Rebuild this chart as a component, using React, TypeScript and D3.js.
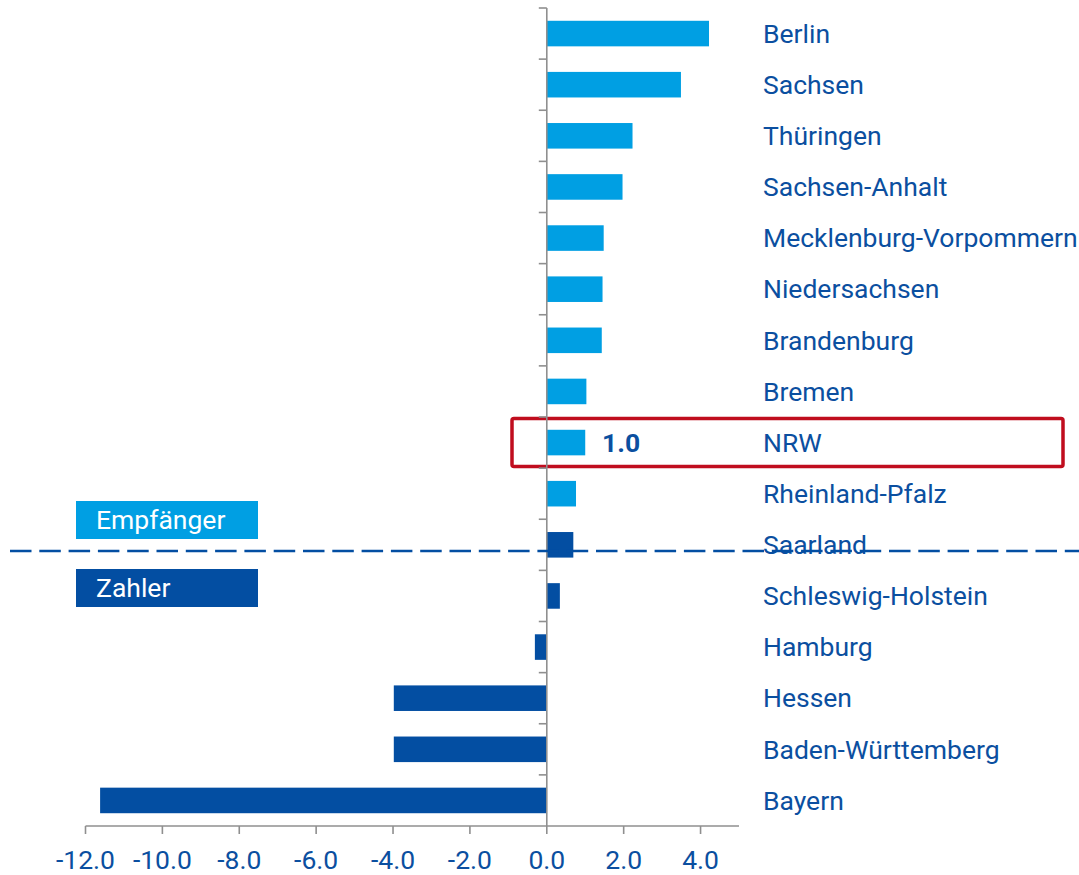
import { useEffect, useRef } from "react";
import * as d3 from "d3";

const LAENDER = [
  "Berlin", "Sachsen", "Thüringen", "Sachsen-Anhalt", "Mecklenburg-Vorpommern",
  "Niedersachsen", "Brandenburg", "Bremen", "NRW", "Rheinland-Pfalz", "Saarland",
  "Schleswig-Holstein", "Hamburg", "Hessen", "Baden-Württemberg", "Bayern",
];
const WERTE = [4.22, 3.49, 2.23, 1.97, 1.48, 1.45, 1.43, 1.03, 1.0, 0.76, 0.69, 0.34, -0.31, -3.98, -3.98, -11.62];
// first 10 rows are Empfänger, rest Zahler (Saarland drawn dark in the source)
const GRUPPE = ["E","E","E","E","E","E","E","E","E","E","Z","Z","Z","Z","Z","Z"];
const X_TICKS = [-12, -10, -8, -6, -4, -2, 0, 2, 4];
const HIGHLIGHT = "NRW";
const HIGHLIGHT_LABEL = "1.0";

const HELL = "#009fe3";
const DUNKEL = "#034ea2";
const TEXT = "#0b4fa0";
const GRAU = "#8f8f8f";

export default function App() {
  const ref = useRef<SVGSVGElement>(null);

  useEffect(() => {
    if (!ref.current) return;
    const W = 1079, H = 875;
    const svg = d3.select(ref.current);
    svg.selectAll("*").remove();
    svg.attr("viewBox", `0 0 ${W} ${H}`);

    const font = "Roboto, 'Open Sans', sans-serif";
    const fs = 26.5;
    const x = d3.scaleLinear().domain([-12, 5]).range([85.5, 739]);
    const y = d3.scaleBand<string>().domain(LAENDER).range([8, 826]).paddingInner(0.5).paddingOuter(0.25);
    const x0 = x(0);
    const yAxis = 826;

    // highlight frame
    const hy = y(HIGHLIGHT)! + y.bandwidth() / 2;
    svg.append("rect")
      .attr("x", 512).attr("y", hy - 24).attr("width", 551).attr("height", 48)
      .attr("rx", 2)
      .attr("fill", "none").attr("stroke", "#c00d1e").attr("stroke-width", 3.5);

    // bars
    svg.append("g").selectAll("rect")
      .data(LAENDER)
      .join("rect")
      .attr("x", (d, i) => Math.min(x(WERTE[i]), x0))
      .attr("y", (d) => y(d)!)
      .attr("width", (d, i) => Math.abs(x(WERTE[i]) - x0))
      .attr("height", y.bandwidth())
      .attr("fill", (d, i) => (GRUPPE[i] === "E" ? HELL : DUNKEL));

    // vertical axis
    const step = y.step();
    const g = svg.append("g").attr("stroke", GRAU).attr("stroke-width", 1.6);
    g.append("line").attr("x1", x0).attr("x2", x0).attr("y1", 8).attr("y2", yAxis);
    d3.range(LAENDER.length).forEach((i) => {
      const yy = 8 + i * step;
      g.append("line").attr("x1", x0 - 8).attr("x2", x0).attr("y1", yy).attr("y2", yy);
    });

    // horizontal axis
    g.append("line").attr("x1", x(-12)).attr("x2", x(5)).attr("y1", yAxis).attr("y2", yAxis);
    X_TICKS.forEach((t) => {
      g.append("line").attr("x1", x(t)).attr("x2", x(t)).attr("y1", yAxis).attr("y2", yAxis + 8);
    });
    svg.append("g").selectAll("text")
      .data(X_TICKS)
      .join("text")
      .attr("x", (d) => x(d))
      .attr("y", 869)
      .attr("text-anchor", "middle")
      .attr("font-family", font)
      .attr("font-size", fs)
      .attr("fill", TEXT)
      .text((d) => d.toFixed(1));

    // category labels
    svg.append("g").selectAll("text")
      .data(LAENDER)
      .join("text")
      .attr("x", 763)
      .attr("y", (d) => y(d)! + y.bandwidth() / 2)
      .attr("dy", "0.35em")
      .attr("font-family", font)
      .attr("font-size", fs)
      .attr("fill", TEXT)
      .text((d) => d);

    // value label NRW
    svg.append("text")
      .attr("x", 602).attr("y", hy).attr("dy", "0.35em")
      .attr("font-family", font).attr("font-size", fs).attr("font-weight", "bold")
      .attr("fill", TEXT)
      .text(HIGHLIGHT_LABEL);

    // divider line
    svg.append("line")
      .attr("x1", 10).attr("x2", W).attr("y1", 551).attr("y2", 551)
      .attr("stroke", DUNKEL).attr("stroke-width", 2.5)
      .attr("stroke-dasharray", "21.5,7.8");

    // legend boxes
    const legend = [
      { label: "Empfänger", fill: HELL, y0: 501 },
      { label: "Zahler", fill: DUNKEL, y0: 569 },
    ];
    legend.forEach((l) => {
      svg.append("rect").attr("x", 76).attr("y", l.y0).attr("width", 182).attr("height", 38).attr("fill", l.fill);
      svg.append("text")
        .attr("x", 96).attr("y", l.y0 + 19).attr("dy", "0.35em")
        .attr("font-family", font).attr("font-size", fs).attr("fill", "#fff")
        .text(l.label);
    });
  }, []);

  return (
    <div style={{ position: "absolute", left: 0, top: 0, width: 1079, height: 875, background: "#fff" }}>
      <svg ref={ref} width={1079} height={875} style={{ display: "block" }} />
    </div>
  );
}
